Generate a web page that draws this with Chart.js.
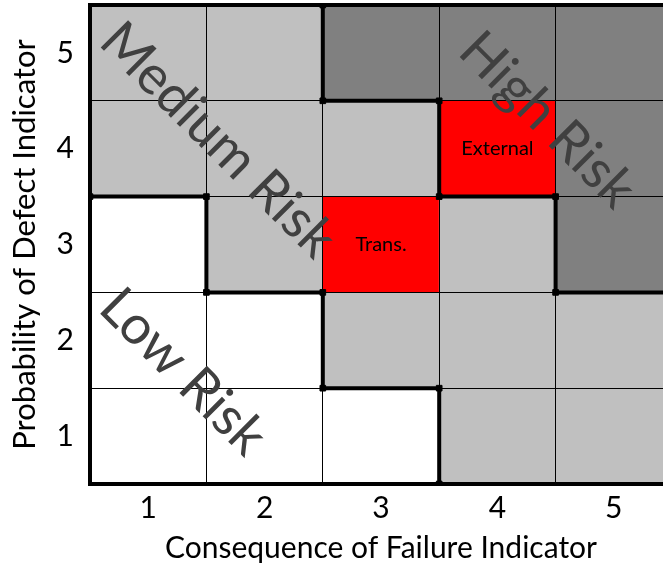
<!DOCTYPE html>
<html>
<head>
<meta charset="utf-8">
<script src="https://cdn.jsdelivr.net/npm/chart.js@4.4.1/dist/chart.umd.min.js"></script>
<style>
  html, body { margin: 0; padding: 0; overflow: hidden; background: #fff; }
  #wrap { width: 677px; height: 567px; position: relative; }
</style>
</head>
<body>
<div id="wrap"><canvas id="chart"></canvas></div>
<script>
// consequence (columns) and probability (rows) categories
const consequence = ['1', '2', '3', '4', '5'];
const probability = ['1', '2', '3', '4', '5'];

// risk zone of every cell, row 1 (bottom) first, columns 1..5
const zones = [
  ['low', 'low', 'low', 'med', 'med'],
  ['low', 'low', 'med', 'med', 'med'],
  ['low', 'med', 'hot', 'med', 'high'],
  ['med', 'med', 'med', 'hot', 'high'],
  ['med', 'med', 'high', 'high', 'high']
];

// each cell is one unit tall
const cellSize = [1, 1, 1, 1, 1];

// zone boundaries (cell edges)
const lowMedEdge = [[0.5, 3], [1.5, 3], [1.5, 2], [2.5, 2], [2.5, 1], [3.5, 1], [3.5, 0]];
const medHighEdge = [[2.5, 5], [2.5, 4], [3.5, 4], [3.5, 3], [4.5, 3], [4.5, 2], [5.5, 2]];

// labelled cells
const cellNotes = [
  { c: 3, p: 3, text: 'Trans.' },
  { c: 4, p: 4, text: 'External' }
];

const zoneNames = ['Low Risk', 'Medium Risk', 'High Risk'];

const zoneColor = { low: '#ffffff', med: '#c0c0c0', high: '#808080', hot: '#ff0000' };

Chart.defaults.font.family = 'Lato';
Chart.defaults.color = '#000';

const rowSets = probability.map((p, r) => ({
  type: 'bar',
  label: 'P' + p,
  data: cellSize,
  backgroundColor: zones[r].map(z => zoneColor[z]),
  borderWidth: 0,
  grouped: false,
  barPercentage: 1,
  categoryPercentage: 1,
  xAxisID: 'x',
  yAxisID: 'y',
  order: 2
}));

const edgeSet = pts => ({
  type: 'line',
  data: pts.map(([x, y]) => ({ x, y })),
  borderColor: '#000',
  borderWidth: 4,
  pointStyle: 'rect',
  pointRadius: 4,
  pointBackgroundColor: '#000',
  pointBorderColor: '#000',
  pointBorderWidth: 1,
  xAxisID: 'xl',
  yAxisID: 'yg',
  order: 1
});

const noPad = s => { s.paddingTop = 0; s.paddingBottom = 0; s.paddingLeft = 0; s.paddingRight = 0; };

const labelsPlugin = {
  id: 'labels',
  afterDraw(chart) {
    const { ctx } = chart;
    const xs = chart.scales.xl, ys = chart.scales.yg;
    ctx.save();
    ctx.textAlign = 'center';
    ctx.textBaseline = 'middle';

    ctx.fillStyle = '#000';
    ctx.font = '20px Lato';
    cellNotes.forEach(n => {
      ctx.fillText(n.text, xs.getPixelForValue(n.c), ys.getPixelForValue(n.p - 0.5));
    });

    const spots = [[1.3, 1.17], [1.6, 3.59], [4.43, 3.8]];
    ctx.fillStyle = '#404040';
    ctx.font = '54px Lato';
    zoneNames.forEach((name, i) => {
      ctx.save();
      ctx.translate(xs.getPixelForValue(spots[i][0]), ys.getPixelForValue(spots[i][1]));
      ctx.rotate(Math.PI / 4);
      ctx.fillText(name, 0, 0);
      ctx.restore();
    });
    ctx.restore();
  }
};

new Chart(document.getElementById('chart'), {
  type: 'bar',
  data: {
    labels: consequence,
    datasets: [...rowSets, edgeSet(lowMedEdge), edgeSet(medHighEdge)]
  },
  options: {
    responsive: true,
    maintainAspectRatio: false,
    animation: false,
    layout: { padding: { top: 5, right: 0, bottom: 0, left: 0 } },
    plugins: { legend: { display: false }, tooltip: { enabled: false } },
    scales: {
      x: {
        type: 'category',
        stacked: true,
        offset: true,
        grid: { offset: true, color: '#000', lineWidth: 1, drawTicks: false, z: 1 },
        border: { width: 4, color: '#000', z: 2 },
        ticks: { padding: 6, font: { size: 30 } },
        title: { display: true, text: 'Consequence of Failure Indicator', font: { size: 30 }, padding: { top: 0, bottom: 1 } },
        afterFit: s => { s.height = 83; noPad(s); }
      },
      xl: { type: 'linear', min: 0.5, max: 5.5, offset: false, display: false },
      y: {
        type: 'linear',
        stacked: true,
        min: 0,
        max: 5,
        grid: { display: false },
        border: { width: 4, color: '#000', z: 2 },
        afterBuildTicks: s => { s.ticks = probability.map((p, i) => ({ value: i + 0.5 })); },
        ticks: { padding: 8, font: { size: 30 }, callback: v => probability[Math.round(v - 0.5)] },
        title: { display: true, text: 'Probability of Defect Indicator', font: { size: 31 }, padding: { top: 6, bottom: 0 } },
        afterFit: s => { s.width = 90; noPad(s); }
      },
      yg: {
        type: 'linear',
        position: 'left',
        min: 0,
        max: 5,
        ticks: { stepSize: 1, display: false },
        grid: {
          color: '#000',
          drawTicks: false,
          z: 1,
          lineWidth: c => (c.tick && c.tick.value === 5 ? 4 : 1)
        },
        border: { display: false },
        afterFit: s => { s.width = 0; noPad(s); }
      }
    }
  },
  plugins: [labelsPlugin]
});
</script>
</body>
</html>
